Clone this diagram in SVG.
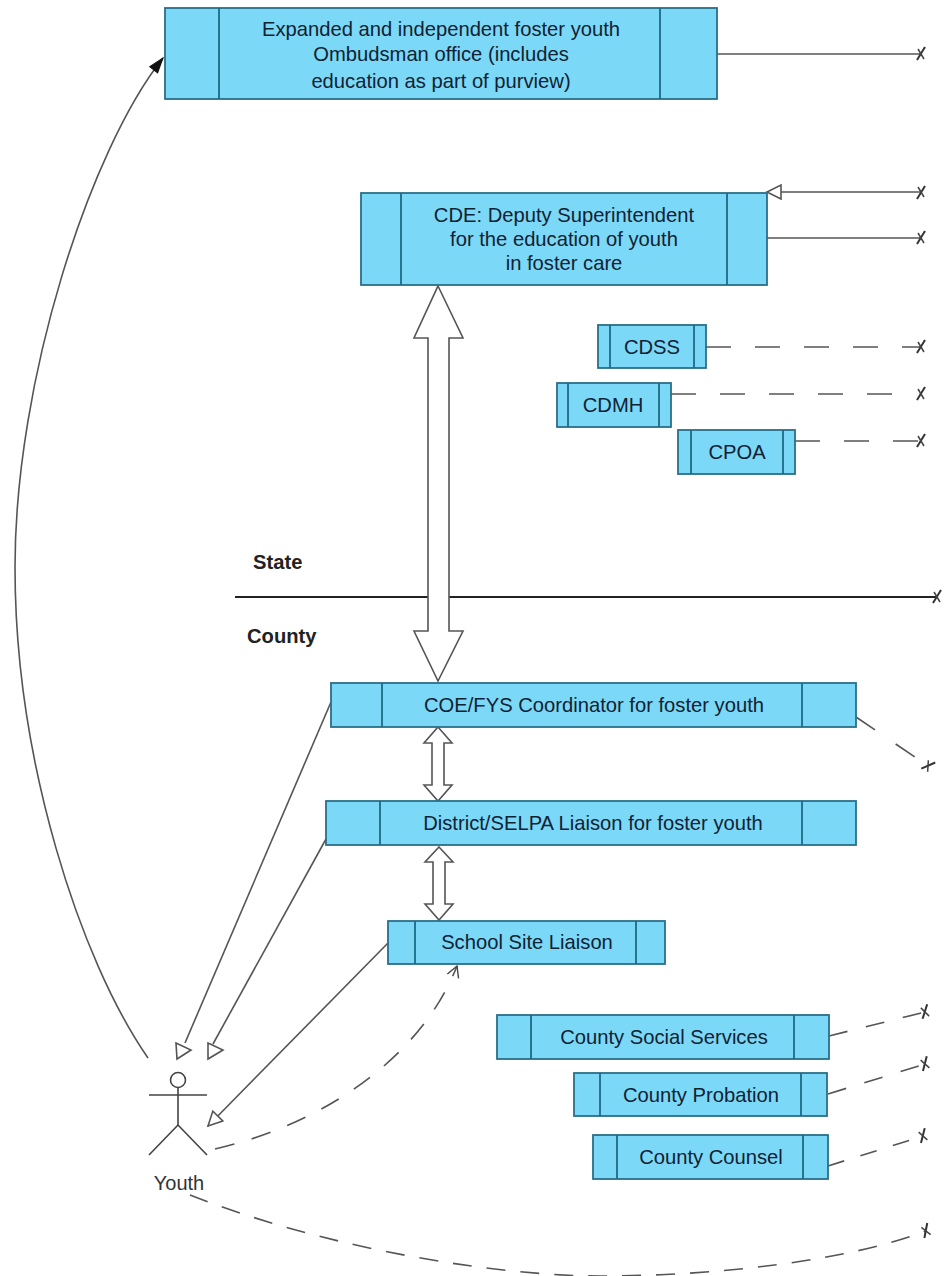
<svg xmlns="http://www.w3.org/2000/svg" width="944" height="1276" viewBox="0 0 944 1276">
<defs>
<marker id="x" markerUnits="userSpaceOnUse" markerWidth="20" markerHeight="20" refX="10" refY="10" orient="auto"><path d="M6 16 L14 3" fill="none" stroke="#333" stroke-width="2"/><path d="M7 5 L13 15" fill="none" stroke="#444" stroke-width="1.5"/></marker>
<marker id="tri" markerUnits="userSpaceOnUse" markerWidth="20" markerHeight="20" refX="15" refY="8" orient="auto"><path d="M1 1 L15 8 L1 15 Z" fill="#fff" stroke="#555" stroke-width="1.6"/></marker>
<marker id="solid" markerUnits="userSpaceOnUse" markerWidth="20" markerHeight="14" refX="16" refY="6" orient="auto"><path d="M1 1 L16 6 L1 11 Z" fill="#111" stroke="#111"/></marker>
<marker id="open" markerUnits="userSpaceOnUse" markerWidth="20" markerHeight="20" refX="13" refY="7" orient="auto"><path d="M2 1 L13 7 L2 13" fill="none" stroke="#444" stroke-width="1.4"/></marker>
</defs>
<style>
.b{fill:#7cd8f7;stroke:#2a6f88;stroke-width:1.8}
.d{stroke:#1e6a84;stroke-width:1.8;fill:none}
.t{font-family:"Liberation Sans",Arial,sans-serif;font-size:20.2px;fill:#123;text-anchor:middle}
.l{fill:none;stroke:#555;stroke-width:1.6}
.da{stroke-dasharray:25 24}
.h{fill:#fff;stroke:#555;stroke-width:1.6;stroke-linejoin:miter}
.bold{font-family:"Liberation Sans",Arial,sans-serif;font-size:20.2px;font-weight:bold;fill:#222}
</style>
<g id="connectors">
<path class="l" d="M717 54 H921" marker-end="url(#x)"/>
<path class="l" d="M921 192 H767" marker-start="url(#x)" marker-end="url(#tri)"/>
<path class="l" d="M767 238 H921" marker-end="url(#x)"/>
<path class="l da" d="M706 347 H921" marker-end="url(#x)"/>
<path class="l" style="stroke-dasharray:25 24 25 24 25 24 25 24 25 31" d="M671 394 H921" marker-end="url(#x)"/>
<path class="l da" d="M795 441 H921" marker-end="url(#x)"/>
<path d="M235 597 H937" fill="none" stroke="#222" stroke-width="1.8" marker-end="url(#x)"/>
<path class="l" style="stroke-dasharray:23 25" d="M856 717 L928 766" marker-end="url(#x)"/>
<path class="l" style="stroke-dasharray:19 19" d="M829 1036 L925 1012" marker-end="url(#x)"/>
<path class="l" style="stroke-dasharray:19 19" d="M828 1094 L925 1064" marker-end="url(#x)"/>
<path class="l" style="stroke-dasharray:17 17" d="M828 1166 L923 1136" marker-end="url(#x)"/>
<path class="h" d="M438 286 L463 338 L449 338 L449 631 L463 631 L438 681 L414 631 L428 631 L428 338 L414 338 Z"/>
<path class="h" d="M438 727 L452 743 L444 743 L444 785 L452 785 L438 801 L424 785 L432 785 L432 743 L424 743 Z"/>
<path class="h" d="M439 847 L453 862 L445 862 L445 904 L453 904 L439 920 L425 904 L433 904 L433 862 L425 862 Z"/>
<path class="l" d="M331 702 L185 1043"/>
<path class="h" d="M176 1043 L191 1050 L177 1059 Z"/>
<path class="l" d="M326 839 L213 1044"/>
<path class="h" d="M208 1043 L223 1050 L208 1059 Z"/>
<path class="l" d="M388 943 L208 1126" marker-end="url(#tri)"/>
<path class="l" d="M148 1058 C80 960 15 760 15 567 C15 380 90 150 163 58" marker-end="url(#solid)"/>
<path class="l" style="stroke-dasharray:20 18" d="M215 1149 C320 1125 420 1060 457 966" marker-end="url(#open)"/>
<path class="l" style="stroke-dasharray:19 15" d="M190 1195 C330 1250 500 1276 600 1276 C720 1276 850 1260 926 1231" marker-end="url(#x)"/>
</g>
<g id="ombudsman"><rect class="b" x="165" y="8" width="552" height="91"/><path class="d" d="M219 8 V99 M660 8 V99"/><text class="t" x="441" y="36">Expanded and independent foster youth</text><text class="t" x="441" y="61">Ombudsman office (includes</text><text class="t" x="441" y="88">education as part of purview)</text></g>
<g id="cde"><rect class="b" x="361" y="193" width="406" height="92"/><path class="d" d="M401 193 V285 M727 193 V285"/><text class="t" x="564" y="222">CDE: Deputy Superintendent</text><text class="t" x="564" y="246">for the education of youth</text><text class="t" x="564" y="270">in foster care</text></g>
<g id="cdss"><rect class="b" x="598" y="325" width="108" height="43"/><path class="d" d="M610 325 V368 M694 325 V368"/><text class="t" x="652" y="354">CDSS</text></g>
<g id="cdmh"><rect class="b" x="557" y="383" width="114" height="44"/><path class="d" d="M568 383 V427 M659 383 V427"/><text class="t" x="613" y="412">CDMH</text></g>
<g id="cpoa"><rect class="b" x="678" y="430" width="117" height="44"/><path class="d" d="M691 430 V474 M783 430 V474"/><text class="t" x="737" y="459">CPOA</text></g>
<g id="coe"><rect class="b" x="331" y="683" width="525" height="44"/><path class="d" d="M382 683 V727 M802 683 V727"/><text class="t" x="594" y="712">COE/FYS Coordinator for foster youth</text></g>
<g id="district"><rect class="b" x="326" y="801" width="530" height="44"/><path class="d" d="M380 801 V845 M802 801 V845"/><text class="t" x="593" y="830">District/SELPA Liaison for foster youth</text></g>
<g id="school"><rect class="b" x="388" y="921" width="277" height="43"/><path class="d" d="M415 921 V964 M636 921 V964"/><text class="t" x="527" y="949">School Site Liaison</text></g>
<g id="social"><rect class="b" x="497" y="1015" width="332" height="44"/><path class="d" d="M531 1015 V1059 M794 1015 V1059"/><text class="t" x="664" y="1044">County Social Services</text></g>
<g id="probation"><rect class="b" x="574" y="1073" width="253" height="43"/><path class="d" d="M600 1073 V1116 M801 1073 V1116"/><text class="t" x="701" y="1102">County Probation</text></g>
<g id="counsel"><rect class="b" x="593" y="1135" width="235" height="44"/><path class="d" d="M617 1135 V1179 M803 1135 V1179"/><text class="t" x="711" y="1164">County Counsel</text></g>
<g id="youth"><circle cx="178" cy="1080" r="7.5" fill="#fff" stroke="#444" stroke-width="1.6"/><path d="M178 1088 V1125 M149 1095 H207 M178 1125 L149 1155 M178 1125 L207 1155" fill="none" stroke="#444" stroke-width="1.6"/><text x="179" y="1190" text-anchor="middle" font-family="Liberation Sans, Arial, sans-serif" font-size="20" fill="#333">Youth</text></g>
<g id="labels"><text class="bold" x="253" y="569">State</text><text class="bold" x="247" y="643">County</text></g>
</svg>
